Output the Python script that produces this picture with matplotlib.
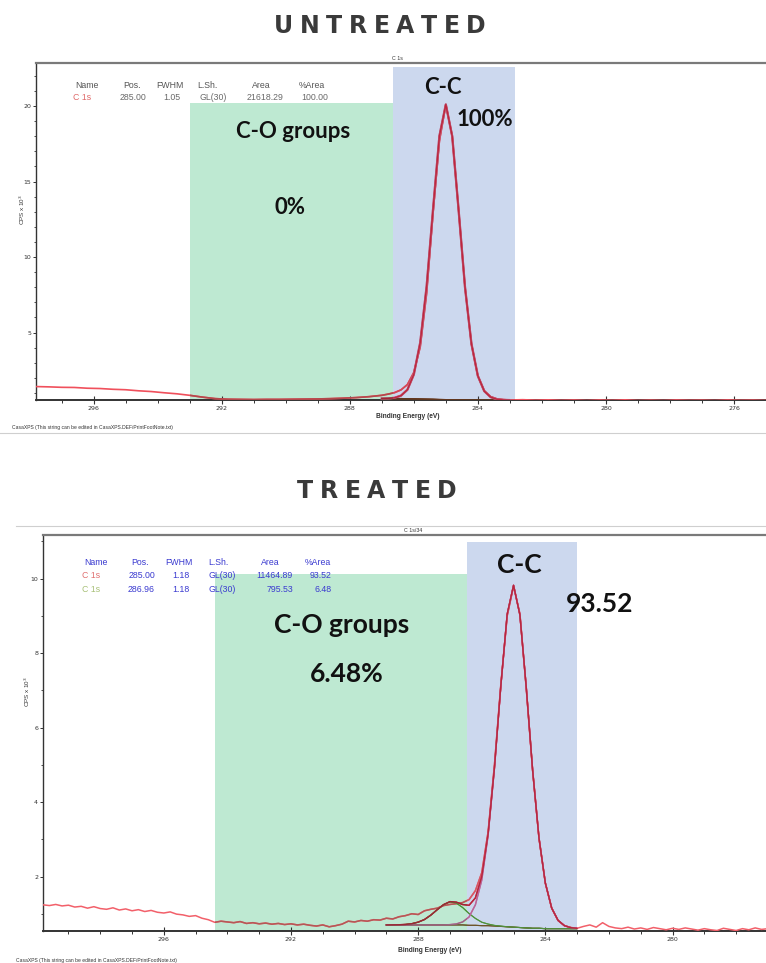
import matplotlib
matplotlib.use("Agg")
import matplotlib.pyplot as plt
import numpy as np
from matplotlib.patches import Rectangle
from matplotlib.lines import Line2D
from matplotlib.font_manager import FontProperties
from matplotlib.ticker import MultipleLocator

# ---------------- DATA ----------------
# Untreated: raw spectrum (binding energy eV, CPS x 10^3)
u_raw_be = [297.8, 297.4, 297.0, 296.6, 296.2, 295.8, 295.4, 295.0, 294.6, 294.2, 293.8, 293.4,
            293.0, 292.6, 292.2, 291.8, 291.4, 291.0, 290.6, 290.2, 289.8, 289.4, 289.0, 288.6,
            288.2, 287.8, 287.4, 287.0, 286.8, 286.6, 286.4, 286.2, 286.0, 285.8, 285.6, 285.4,
            285.2, 285.0, 284.8, 284.6, 284.4, 284.2, 284.0, 283.8, 283.6, 283.4, 283.2, 283.0,
            282.6, 282.2, 281.8, 281.4, 281.0, 280.6, 280.2, 279.8, 279.4, 279.0, 278.6, 278.2,
            277.8, 277.4, 277.0, 276.6, 276.2, 275.8, 275.4, 275.0]
u_raw_cps = [1.42, 1.40, 1.37, 1.36, 1.31, 1.29, 1.24, 1.21, 1.14, 1.09, 1.01, 0.94,
             0.84, 0.72, 0.62, 0.58, 0.57, 0.56, 0.57, 0.57, 0.58, 0.59, 0.60, 0.62,
             0.65, 0.69, 0.75, 0.84, 0.92, 1.02, 1.20, 1.55, 2.35, 4.05, 7.60, 12.9,
             17.7, 20.1, 18.0, 13.1, 8.00, 4.25, 2.12, 1.14, 0.75, 0.60, 0.55, 0.53,
             0.55, 0.52, 0.54, 0.51, 0.53, 0.50, 0.53, 0.51, 0.54, 0.50, 0.52, 0.50,
             0.53, 0.51, 0.52, 0.50, 0.53, 0.51, 0.52, 0.50]
# Untreated fit (C 1s, 285.00 eV) on fit grid
u_fit_be = [287.0, 286.8, 286.6, 286.4, 286.2, 286.0, 285.8, 285.6, 285.4, 285.2, 285.0,
            284.8, 284.6, 284.4, 284.2, 284.0, 283.8, 283.6, 283.4, 283.2, 283.0]
u_bg = [0.62, 0.62, 0.62, 0.62, 0.61, 0.61, 0.60, 0.59, 0.58, 0.56, 0.55,
        0.54, 0.53, 0.53, 0.52, 0.52, 0.52, 0.52, 0.52, 0.52, 0.52]
u_c1 = [0.004, 0.014, 0.057, 0.20, 0.60, 1.61, 3.73, 7.45, 12.56, 17.46, 19.55,
        17.46, 12.56, 7.45, 3.73, 1.61, 0.60, 0.20, 0.057, 0.014, 0.004]

# Treated: raw spectrum
t_raw_be = [299.8, 299.6, 299.4, 299.2, 299.0, 298.8, 298.6, 298.4, 298.2, 298.0, 297.8, 297.6,
            297.4, 297.2, 297.0, 296.8, 296.6, 296.4, 296.2, 296.0, 295.8, 295.6, 295.4, 295.2,
            295.0, 294.8, 294.6, 294.4, 294.2, 294.0, 293.8, 293.6, 293.4, 293.2, 293.0, 292.8,
            292.6, 292.4, 292.2, 292.0, 291.8, 291.6, 291.4, 291.2, 291.0, 290.8, 290.6, 290.4,
            290.2, 290.0, 289.8, 289.6, 289.4, 289.2, 289.0, 288.8, 288.6, 288.4, 288.2, 288.0,
            287.8, 287.6, 287.4, 287.2, 287.0, 286.8, 286.6, 286.4, 286.2, 286.0, 285.8, 285.6,
            285.4, 285.2, 285.0, 284.8, 284.6, 284.4, 284.2, 284.0, 283.8, 283.6, 283.4, 283.2,
            283.0, 282.8, 282.6, 282.4, 282.2, 282.0, 281.8, 281.6, 281.4, 281.2, 281.0, 280.8,
            280.6, 280.4, 280.2, 280.0, 279.8, 279.6, 279.4, 279.2, 279.0, 278.8, 278.6, 278.4,
            278.2, 278.0, 277.8, 277.6, 277.4, 277.2, 277.0]
t_raw_cps = [1.24, 1.22, 1.25, 1.21, 1.23, 1.18, 1.20, 1.15, 1.19, 1.14, 1.12, 1.16,
             1.10, 1.13, 1.08, 1.11, 1.06, 1.09, 1.04, 1.02, 1.05, 0.99, 0.97, 0.93,
             0.95, 0.88, 0.84, 0.77, 0.80, 0.78, 0.76, 0.79, 0.74, 0.76, 0.73, 0.75,
             0.72, 0.74, 0.71, 0.73, 0.70, 0.72, 0.69, 0.67, 0.70, 0.65, 0.68, 0.72,
             0.80, 0.78, 0.82, 0.80, 0.84, 0.83, 0.88, 0.86, 0.92, 0.95, 1.00, 0.98,
             1.08, 1.12, 1.15, 1.22, 1.25, 1.27, 1.30, 1.38, 1.62, 2.10, 3.20, 5.00,
             7.15, 9.00, 9.80, 9.05, 7.05, 4.85, 3.03, 1.82, 1.15, 0.82, 0.68, 0.63,
             0.61, 0.66, 0.70, 0.64, 0.76, 0.66, 0.62, 0.60, 0.64, 0.59, 0.62, 0.58,
             0.63, 0.60, 0.57, 0.61, 0.58, 0.62, 0.59, 0.56, 0.60, 0.57, 0.55, 0.61,
             0.58, 0.55, 0.60, 0.57, 0.62, 0.58, 0.60]
# Treated fit: C 1s (285.00 eV) and C 1s (286.96 eV)
t_fit_be = [289.0, 288.8, 288.6, 288.4, 288.2, 288.0, 287.8, 287.6, 287.4, 287.2, 287.0,
            286.8, 286.6, 286.4, 286.2, 286.0, 285.8, 285.6, 285.4, 285.2, 285.0,
            284.8, 284.6, 284.4, 284.2, 284.0, 283.8, 283.6, 283.4, 283.2, 283.0]
t_bg = [0.70, 0.70, 0.70, 0.70, 0.70, 0.70, 0.70, 0.70, 0.70, 0.70, 0.70,
        0.70, 0.70, 0.69, 0.69, 0.68, 0.68, 0.67, 0.66, 0.65, 0.64,
        0.63, 0.62, 0.61, 0.61, 0.60, 0.60, 0.60, 0.60, 0.60, 0.60]
t_c1 = [0.0, 0.0, 0.0, 0.0, 0.0, 0.0, 0.0, 0.0, 0.0, 0.0, 0.008,
        0.026, 0.081, 0.222, 0.551, 1.224, 2.424, 4.241, 6.454, 8.393, 9.18,
        8.393, 6.454, 4.241, 2.424, 1.224, 0.551, 0.222, 0.081, 0.026, 0.008]
t_c2 = [0.0, 0.002, 0.005, 0.013, 0.033, 0.075, 0.146, 0.265, 0.41, 0.546, 0.618,
        0.586, 0.466, 0.315, 0.185, 0.093, 0.043, 0.017, 0.007, 0.002, 0.0,
        0.0, 0.0, 0.0, 0.0, 0.0, 0.0, 0.0, 0.0, 0.0, 0.0]

# Shaded regions (binding energy eV, top in CPS x 10^3)
u_co_region = (293.0, 286.66, 20.2)
u_cc_region = (286.66, 282.84, 22.58)
t_co_region = (294.4, 286.47, 10.12)
t_cc_region = (286.47, 283.0, 10.98)

u_table = [["Name", "Pos.", "FWHM", "L.Sh.", "Area", "%Area"],
           ["C 1s", "285.00", "1.05", "GL(30)", "21618.29", "100.00"]]
t_table = [["Name", "Pos.", "FWHM", "L.Sh.", "Area", "%Area"],
           ["C 1s", "285.00", "1.18", "GL(30)", "11464.89", "93.52"],
           ["C 1s", "286.96", "1.18", "GL(30)", "795.53", "6.48"]]

# ---------------- FIGURE ----------------
W, H = 766, 963
fig = plt.figure(figsize=(W / 100, H / 100), dpi=100)
fig.patch.set_facecolor("white")


def P(x, y):
    return (x / W, 1 - y / H)


GREEN = (0.745, 0.914, 0.824)
BLUE = (0.800, 0.847, 0.933)


def mult(c1, c2, k=1.0):
    a = matplotlib.colors.to_rgb(c1)
    b = matplotlib.colors.to_rgb(c2)
    return tuple(x * (1 - k + k * y) for x, y in zip(a, b))


def setup_axes(rect, xlim, ylim, ymaj):
    ax = fig.add_axes(rect)
    ax.set_xlim(*xlim)
    ax.set_ylim(*ylim)
    ax.spines["right"].set_visible(False)
    ax.spines["top"].set_color("#7a7a7a")
    ax.spines["top"].set_linewidth(1.6)
    ax.spines["left"].set_color("#333333")
    ax.spines["left"].set_linewidth(1.0)
    ax.spines["bottom"].set_color("#333333")
    ax.spines["bottom"].set_linewidth(1.4)
    ax.xaxis.set_major_locator(MultipleLocator(4))
    ax.xaxis.set_minor_locator(MultipleLocator(1))
    ax.yaxis.set_major_locator(MultipleLocator(ymaj))
    ax.yaxis.set_minor_locator(MultipleLocator(1))
    ax.tick_params(axis="x", which="major", direction="inout", length=6, width=0.8,
                   labelsize=4.5, colors="#333333", pad=1)
    ax.tick_params(axis="x", which="minor", direction="out", length=2.5, width=0.7, colors="#333333")
    ax.tick_params(axis="y", which="major", direction="out", length=2.5, width=0.7,
                   labelsize=4.5, colors="#333333", pad=1)
    ax.tick_params(axis="y", which="minor", direction="out", length=1.5, width=0.6, colors="#333333")
    ax.xaxis.set_major_formatter(matplotlib.ticker.FuncFormatter(lambda v, p: f"{v:.0f}"))
    ax.yaxis.set_major_formatter(matplotlib.ticker.FuncFormatter(lambda v, p: f"{v:.0f}"))
    return ax


def add_regions(ax, regions, ybot):
    patches = []
    for (x0, x1, top), col, k in regions:
        r = Rectangle((x1, ybot), x0 - x1, top - ybot, facecolor=col, edgecolor="none", zorder=1)
        ax.add_patch(r)
        patches.append((r, col, k))
    return patches


def plot_line(ax, x, y, color, lw, patches, z=3):
    ax.plot(x, y, color=color, lw=lw, zorder=z, solid_joinstyle="round")
    for r, col, k in patches:
        ln, = ax.plot(x, y, color=mult(color, col, k), lw=lw, zorder=z + 2, solid_joinstyle="round")
        ln.set_clip_path(r)


# ---------- Untreated panel ----------
ax1 = setup_axes([36 / W, (H - 400) / H, (W - 36) / W, 337 / H], (297.8, 275.0), (0.53, 22.85), 5)
p1 = add_regions(ax1, [(u_co_region, GREEN, 1.0), (u_cc_region, BLUE, 0.6)], 0.53)
u_bg_a = np.array(u_bg)
u_env = u_bg_a + np.array(u_c1)
plot_line(ax1, u_raw_be, u_raw_cps, "#f0505c", 1.2, p1, 3)
plot_line(ax1, u_fit_be, u_bg_a, "#6e3b1e", 1.0, p1, 3)
plot_line(ax1, u_fit_be, u_env, "#d0708a", 1.6, p1, 3)
plot_line(ax1, u_fit_be, u_env, "#d82a40", 1.0, p1, 3)

# ---------- Treated panel ----------
ax2 = setup_axes([43 / W, (H - 931) / H, (W - 43) / W, 396 / H], (299.8, 277.06), (0.537, 11.17), 2)
p2 = add_regions(ax2, [(t_co_region, GREEN, 1.0), (t_cc_region, BLUE, 0.6)], 0.537)
t_bg_a = np.array(t_bg)
t_comp1 = t_bg_a + np.array(t_c1)
t_comp2 = t_bg_a + np.array(t_c2)
t_env = t_bg_a + np.array(t_c1) + np.array(t_c2)
plot_line(ax2, t_raw_be, t_raw_cps, "#f2606a", 1.1, p2, 3)
plot_line(ax2, t_fit_be, t_bg_a, "#7a5a2a", 0.8, p2, 3)
plot_line(ax2, t_fit_be, t_comp2, "#5aa040", 0.8, p2, 3)
plot_line(ax2, t_fit_be, t_comp1, "#d070a0", 1.0, p2, 3)
plot_line(ax2, t_fit_be, t_env, "#d02a40", 1.0, p2, 3)

# ---------- Axis labels / small texts ----------
small = dict(family="Liberation Sans", color="#333333")
fig.text(*P(408, 417), "Binding Energy (eV)", ha="center", va="center", fontsize=4.8, weight="bold", **small)
fig.text(*P(430, 950), "Binding Energy (eV)", ha="center", va="center", fontsize=4.8, weight="bold", **small)
fig.text(*P(22, 210), "CPS x 10$^3$", ha="center", va="center", rotation=90, fontsize=4.5, **small)
fig.text(*P(27, 692), "CPS x 10$^3$", ha="center", va="center", rotation=90, fontsize=4.5, **small)
fig.text(*P(12, 427), "CasaXPS (This string can be edited in CasaXPS.DEF/PrintFootNote.txt)",
         ha="left", va="center", fontsize=3.6, **small)
fig.text(*P(16, 960), "CasaXPS (This string can be edited in CasaXPS.DEF/PrintFootNote.txt)",
         ha="left", va="center", fontsize=3.6, **small)
fig.text(*P(397, 58), "C 1s", ha="center", va="center", fontsize=3.8, **small)
fig.text(*P(413, 530), "C 1s/34", ha="center", va="center", fontsize=3.8, **small)

# separator lines
fig.add_artist(Line2D([0, 1], [1 - 433 / H, 1 - 433 / H], color="#cfcfcf", lw=0.8))
fig.add_artist(Line2D([16 / W, 1], [1 - 526 / H, 1 - 526 / H], color="#cfcfcf", lw=0.8))

# ---------- Tables ----------
tab_font = dict(family="Liberation Sans", fontsize=6.3)
# untreated
u_cols = [87, 132, 170, 207, 261, 312]
u_right = [None, 146, 180, 227, 283, 328]
for j, t in enumerate(u_table[0]):
    fig.text(*P(u_cols[j], 85), t, ha="center", va="center", color="#555555", **tab_font)
for j, t in enumerate(u_table[1]):
    if j == 0:
        fig.text(*P(73, 97), t, ha="left", va="center", color="#e06a6a", **tab_font)
    else:
        fig.text(*P(u_right[j], 97), t, ha="right", va="center", color="#6a6a6a", **tab_font)
# treated
t_cols = [96, 140, 179, 218, 270, 318]
t_right = [None, 155, 190, 236, 293, 332]
row_colors = ["#e07070", "#a8c078"]
for j, t in enumerate(t_table[0]):
    fig.text(*P(t_cols[j], 562), t, ha="center", va="center", color="#3a3ad0", **tab_font)
for i, row in enumerate(t_table[1:]):
    y = 576 + 14 * i
    for j, t in enumerate(row):
        if j == 0:
            fig.text(*P(82, y), t, ha="left", va="center", color=row_colors[i], **tab_font)
        else:
            fig.text(*P(t_right[j], y), t, ha="right", va="center", color="#3a3ad0", **tab_font)

# ---------- Annotations ----------
ann = dict(family="Lato", weight="bold", color="#111111", ha="center", va="center")
fig.text(*P(293, 131), "C-O groups", fontsize=16, **ann)
fig.text(*P(290, 208), "0%", fontsize=16, **ann)
fig.text(*P(443, 87), "C-C", fontsize=16, **ann)
fig.text(*P(485, 120), "100%", fontsize=16, **ann)
fig.text(*P(342, 625), "C-O groups", fontsize=19, **ann)
fig.text(*P(347, 674), "6.48%", fontsize=19, **ann)
fig.text(*P(519, 565), "C-C", fontsize=19, **ann)
fig.text(*P(600, 604), "93.52", fontsize=19, **ann)

# ---------- Titles with letter spacing ----------
renderer = fig.canvas.get_renderer()
title_fp = FontProperties(family="DejaVu Sans", weight="bold", size=17)


def spaced_title(text, cx, cy, tracking):
    widths = [renderer.get_text_width_height_descent(ch, title_fp, ismath=False)[0] for ch in text]
    total = sum(widths) + tracking * (len(text) - 1)
    x = cx - total / 2
    for ch, w in zip(text, widths):
        fig.text(*P(x, cy), ch, ha="left", va="center", fontproperties=title_fp, color="#3a3a3a")
        x += w + tracking


spaced_title("UNTREATED", 380, 26, 6.5)
spaced_title("TREATED", 377, 491, 6.5)

fig.savefig("out.png", dpi=100, facecolor="white")
